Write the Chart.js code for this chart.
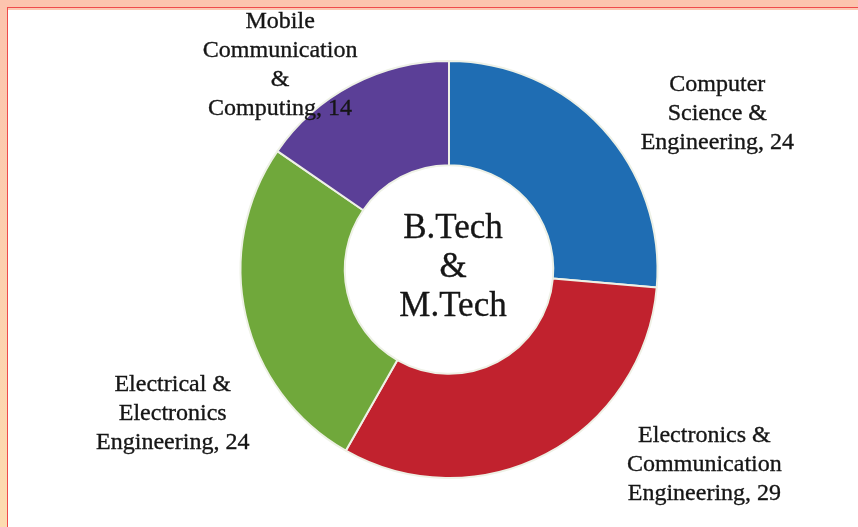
<!DOCTYPE html>
<html>
<head>
<meta charset="utf-8">
<script src="https://cdn.jsdelivr.net/npm/chart.js@4.4.0/dist/chart.umd.min.js"></script>
<style>
  html, body { margin: 0; padding: 0; }
  body { width: 858px; height: 527px; overflow: hidden; position: relative;
         background: linear-gradient(#fcc4ae, #fddcb0); }
  #panel { position: absolute; left: 7px; top: 7px; right: 0; bottom: 0; background: #fff;
           border-top: 1.5px solid #ef4b4b; border-left: 1.5px solid #ef4b4b; }
  #panel:before { content: ""; position: absolute; left: 0; right: 0; top: 0; height: 2px; background: #fcc8b2; }
  #wrap { position: absolute; left: 0; top: 0; width: 858px; height: 527px; }
</style>
</head>
<body>
<div id="panel"></div>
<div id="wrap"><canvas id="c" width="858" height="527"></canvas></div>
<script>
// ---- data ----
const categories = [
  ["Computer", "Science &", "Engineering"],
  ["Electronics &", "Communication", "Engineering"],
  ["Electrical &", "Electronics", "Engineering"],
  ["Mobile", "Communication", "&", "Computing"]
];
const values = [24, 29, 24, 14];
const centerLines = ["B.Tech", "&", "M.Tech"];

// ---- style ----
const colors = ["#1f6db3", "#c1222e", "#70a83b", "#5b3f97"];
// label block centres, in units of the outer radius, relative to the chart centre
const labelAnchors = [[1.287, -0.745], [1.225, 0.935], [-1.325, 0.69], [-0.81, -0.982]];

const labelPlugin = {
  id: 'labels',
  afterDatasetsDraw(chart) {
    const ctx = chart.ctx;
    const arc0 = chart.getDatasetMeta(0).data[0];
    const cx = arc0.x, cy = arc0.y, R = arc0.outerRadius;
    ctx.save();
    ctx.fillStyle = '#161616';
    ctx.strokeStyle = '#161616';
    ctx.lineWidth = 0.35;
    ctx.textAlign = 'center';
    ctx.textBaseline = 'middle';
    ctx.font = '24px "Liberation Serif", "Times New Roman", serif';
    const lh = 29;
    categories.forEach((lines, i) => {
      const txt = lines.slice();
      txt[txt.length - 1] = txt[txt.length - 1] + ', ' + values[i];
      const x = cx + labelAnchors[i][0] * R;
      const y0 = cy + labelAnchors[i][1] * R - (txt.length - 1) * lh / 2;
      txt.forEach((t, k) => { ctx.fillText(t, x, y0 + k * lh); ctx.strokeText(t, x, y0 + k * lh); });
    });
    ctx.font = '35px "Liberation Serif", "Times New Roman", serif';
    const clh = 39;
    const y0 = cy - (centerLines.length - 1) * clh / 2 - 2;
    centerLines.forEach((t, k) => { ctx.fillText(t, cx + 4, y0 + k * clh); ctx.strokeText(t, cx + 4, y0 + k * clh); });
    ctx.restore();
  }
};

new Chart(document.getElementById('c'), {
  type: 'doughnut',
  data: {
    labels: categories.map(l => l.join(' ')),
    datasets: [{
      data: values,
      backgroundColor: colors,
      borderColor: '#eef1e6',
      borderWidth: 2
    }]
  },
  options: {
    responsive: false,
    animation: false,
    cutout: '50%',
    layout: { padding: { top: 60, bottom: 48, left: 40, right: 0 } },
    plugins: { legend: { display: false }, tooltip: { enabled: false } }
  },
  plugins: [labelPlugin]
});
</script>
</body>
</html>
